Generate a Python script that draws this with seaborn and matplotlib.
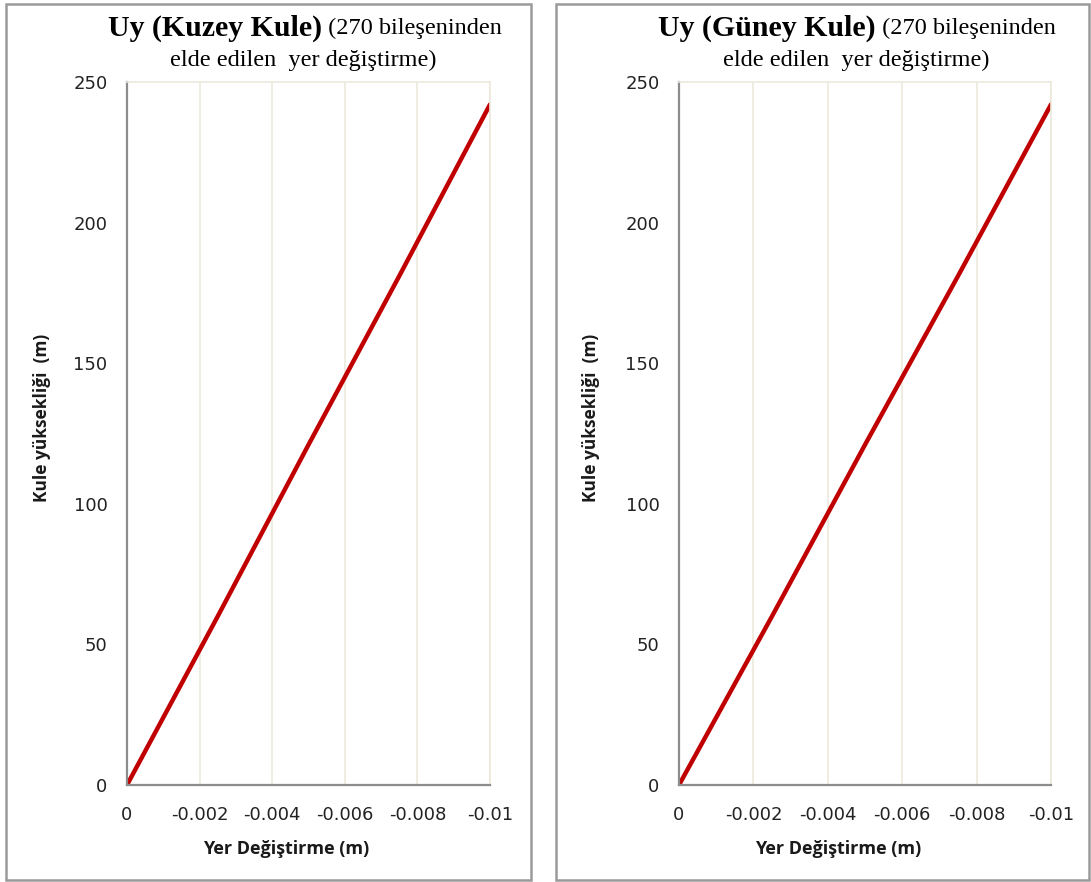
import matplotlib
matplotlib.use("Agg")
import matplotlib.pyplot as plt
from matplotlib.patches import Rectangle
import seaborn as sns
import pandas as pd

# Tower height (m) versus displacement along y (m), from the 270 component
heights = [0, 60, 121, 181, 242]
disp_north = [0, -0.0025, -0.005, -0.0075, -0.01]
disp_south = [0, -0.0025, -0.005, -0.0075, -0.01]

x_ticks = [0, -0.002, -0.004, -0.006, -0.008, -0.01]
x_tick_labels = ["0", "-0.002", "-0.004", "-0.006", "-0.008", "-0.01"]
y_ticks = [0, 50, 100, 150, 200, 250]
y_tick_labels = ["0", "50", "100", "150", "200", "250"]

titles_bold = ["Uy (Kuzey Kule)", "Uy (Güney Kule)"]
title_rest = " (270 bileşeninden"
title_line2 = "elde edilen  yer değiştirme)"
x_label = "Yer Değiştirme (m)"
y_label = "Kule yüksekliği  (m)"

sns.set_theme(style="white")
plt.rcParams["font.family"] = ["DejaVu Sans"]

W, H = 1091, 882
fig = plt.figure(figsize=(W / 100, H / 100), dpi=100)
fig.patch.set_facecolor("white")


def fx(px):
    return px / W


def fy(py):
    return 1 - py / H


panels = [
    dict(box=(6, 4, 531, 880), ax=(127, 82, 490, 785), data=disp_north,
         title=titles_bold[0], tcx=305, l2x=303, xlx=286, ylx=42),
    dict(box=(556, 4, 1089, 880), ax=(679, 82, 1051, 785), data=disp_south,
         title=titles_bold[1], tcx=857, l2x=856, xlx=838, ylx=591),
]

grid_col = "#ECE9DC"
spine_col = "#8C8C8C"
serif = ["Liberation Serif", "DejaVu Serif"]
label_font = ["Open Sans", "DejaVu Sans"]

fig.canvas.draw()
renderer = fig.canvas.get_renderer()

for p in panels:
    x0, y0, x1, y1 = p["box"]
    fig.patches.append(Rectangle((fx(x0), fy(y1)), fx(x1 - x0), (y1 - y0) / H,
                                 transform=fig.transFigure, fill=False,
                                 edgecolor="#9A9A9A", linewidth=1.8))
    l, t, r, b = p["ax"]
    ax = fig.add_axes([fx(l), fy(b), fx(r - l), (b - t) / H])
    df = pd.DataFrame({"disp": p["data"], "height": heights})
    sns.lineplot(data=df, x="disp", y="height", sort=False, ax=ax,
                 color="#C00000", linewidth=3.2, solid_capstyle="round")
    ax.set_xlim(0, -0.01)
    ax.set_ylim(0, 250)
    ax.set_xticks(x_ticks)
    ax.set_xticklabels(x_tick_labels)
    ax.set_yticks(y_ticks)
    ax.set_yticklabels(y_tick_labels)
    ax.set_xlabel("")
    ax.set_ylabel("")
    ax.grid(axis="x", color=grid_col, linewidth=1.2)
    ax.grid(axis="y", visible=False)
    for s in ("left", "bottom"):
        ax.spines[s].set_color(spine_col)
        ax.spines[s].set_linewidth(1.6)
    for s in ("top", "right"):
        ax.spines[s].set_color(grid_col)
        ax.spines[s].set_linewidth(1.2)
    ax.tick_params(axis="both", which="major", direction="out", length=7,
                   width=1.3, color=spine_col, labelsize=13,
                   labelcolor="#222222")
    ax.tick_params(axis="x", pad=8)
    ax.tick_params(axis="y", pad=7)
    ax.set_axisbelow(True)

    # Two-style title: bold tower name followed by regular text
    tb = fig.text(0, fy(28), p["title"], family=serif, fontsize=21.5,
                  fontweight="bold", va="center", ha="left", color="black")
    tr = fig.text(0, fy(28), title_rest, family=serif, fontsize=17.5,
                  va="center", ha="left", color="black")
    wb = tb.get_window_extent(renderer).width
    wr = tr.get_window_extent(renderer).width
    start = p["tcx"] - (wb + wr) / 2
    tb.set_x(fx(start))
    tr.set_x(fx(start + wb))
    fig.text(fx(p["l2x"]), fy(60), title_line2, family=serif, fontsize=17.5,
             va="center", ha="center", color="black")

    fig.text(fx(p["xlx"]), fy(849), x_label, family=label_font, fontsize=13,
             fontweight="bold", ha="center", va="center", color="#1a1a1a")
    fig.text(fx(p["ylx"]), fy(418), y_label, family=label_font, fontsize=12.5,
             fontweight="bold", ha="center", va="center", rotation=90,
             color="#1a1a1a")

fig.savefig("out.png", dpi=100, facecolor="white")
